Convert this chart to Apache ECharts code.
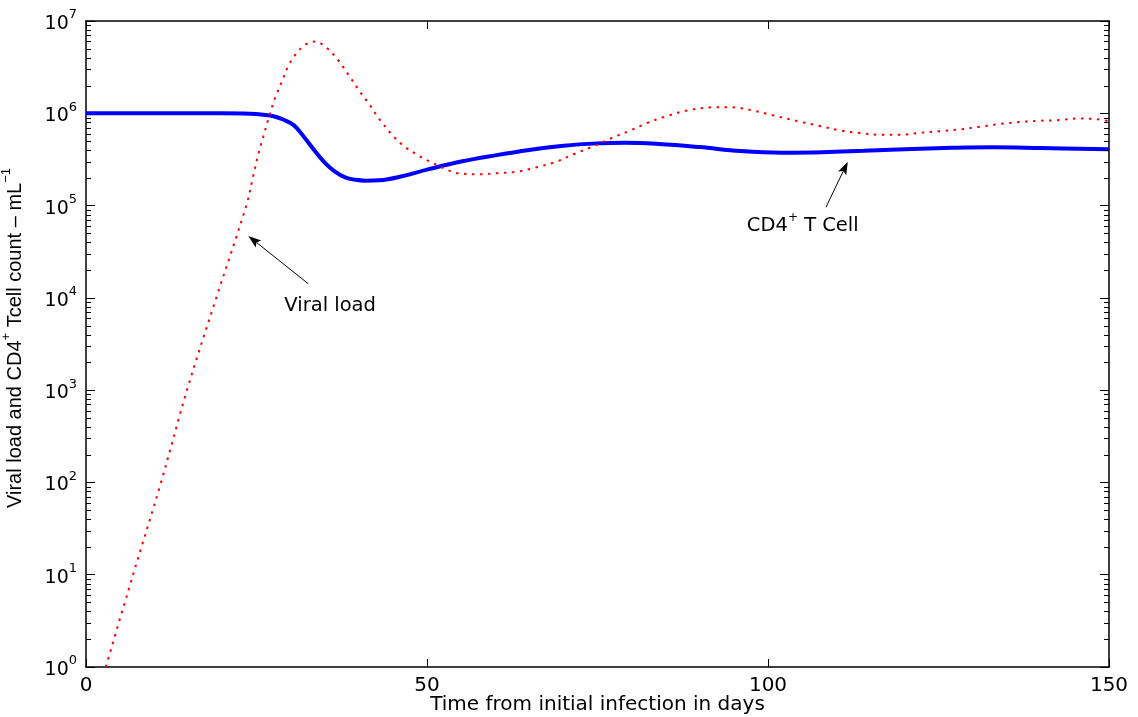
<!DOCTYPE html>
<html>
<head>
<meta charset="utf-8">
<script src="https://cdn.jsdelivr.net/npm/echarts@6/dist/echarts.min.js"></script>
<style>
  html, body { margin: 0; padding: 0; background: #ffffff; }
  #chart { width: 1138px; height: 717px; }
</style>
</head>
<body>
<div id="chart"></div>
<script>
// Viral load (copies per mL) over time, days since infection
const viralDays = [2.9, 6.9, 11.0, 14.8, 19.1, 23.5, 24.5, 25.3, 26.0, 26.7, 27.7, 28.7, 29.7, 30.9, 32.1, 33.6,
  35.3, 36.8, 38.5, 40.2, 41.6, 43.1, 45.1, 46.8, 49.0, 50.4, 52.9, 54.3, 57.3, 60.2, 63.2, 66.1, 69.0, 71.5,
  74.4, 77.1, 79.8, 82.2, 85.1, 88.1, 92.0, 94.9, 97.8, 100.5, 104.7, 107.6, 110.6, 113.5, 116.4, 119.4, 122.3,
  125.2, 128.2, 131.1, 134.0, 137.0, 139.9, 142.8, 145.5, 148.4, 150];
const viralLoad = [1, 10, 100, 1000, 1e4, 1e5, 2.06e5, 3.7e5, 5.6e5, 8.5e5, 1.45e6, 2.2e6, 3.3e6, 4.5e6, 5.5e6, 6.0e6,
  5.1e6, 3.9e6, 2.6e6, 1.7e6, 1.23e6, 8.5e5, 5.6e5, 4.3e5, 3.4e5, 3.0e5, 2.45e5, 2.26e5, 2.18e5, 2.24e5, 2.33e5, 2.6e5, 3.0e5, 3.6e5,
  4.4e5, 5.4e5, 6.5e5, 7.8e5, 9.3e5, 1.07e6, 1.16e6, 1.16e6, 1.07e6, 9.6e5, 8.1e5, 7.3e5, 6.5e5, 6.1e5, 5.85e5, 5.85e5, 6.15e5,
  6.4e5, 6.7e5, 7.15e5, 7.65e5, 8.05e5, 8.3e5, 8.45e5, 8.8e5, 8.6e5, 8.2e5];

// CD4+ T cell count (cells per mL)
const cd4Days = [0, 20, 24, 26, 27.5, 29, 30.5, 32, 33.5, 35, 36.5, 38, 39.5, 41, 43, 46, 50, 55, 60, 65,
  70, 75, 79, 84, 90, 96, 102, 108, 114, 120, 127, 133, 140, 150];
const cd4Count = [1e6, 1e6, 9.9e5, 9.65e5, 9.3e5, 8.5e5, 7.4e5, 5.5e5, 3.95e5, 2.92e5, 2.33e5, 2.02e5, 1.9e5, 1.86e5, 1.88e5, 2.05e5, 2.45e5, 3.0e5, 3.5e5, 4.0e5,
  4.45e5, 4.72e5, 4.8e5, 4.65e5, 4.3e5, 3.9e5, 3.74e5, 3.78e5, 3.92e5, 4.08e5, 4.22e5, 4.28e5, 4.2e5, 4.07e5];

// Axis ticks
const xTicks = [0, 50, 100, 150];
const yExponents = [0, 1, 2, 3, 4, 5, 6, 7];
const minorMantissas = [2, 3, 4, 5, 6, 7, 8, 9];

const FONT = "'DejaVu Sans', Verdana, sans-serif";
const TITLE_FONT = "'Liberation Sans', Arial, Helvetica, sans-serif";

const minorTickValues = [];
yExponents.slice(0, -1).forEach(e => {
  minorMantissas.forEach(m => minorTickValues.push([xTicks[0], m * Math.pow(10, e)]));
});

const chart = echarts.init(document.getElementById('chart'), null, { renderer: 'canvas' });

const AXIS_LINE = { show: true, onZero: false, lineStyle: { color: '#000', width: 1.5 } };

const option = {
  animation: false,
  backgroundColor: '#ffffff',
  grid: { left: 86, right: 29, top: 21, bottom: 50, containLabel: false, outerBoundsMode: 'none' },
  xAxis: [
    {
      type: 'value', min: 0, max: 150, interval: 50, position: 'bottom',
      name: 'Time from initial infection in days', nameLocation: 'middle', nameGap: 28,
      nameMoveOverlap: false,
      nameTextStyle: { fontSize: 20, fontFamily: FONT, color: '#000' },
      axisLine: AXIS_LINE,
      axisTick: { show: true, inside: true, length: 8, lineStyle: { color: '#000' } },
      axisLabel: { show: true, fontSize: 20, fontFamily: FONT, color: '#000', margin: 9 },
      splitLine: { show: false }
    },
    {
      type: 'value', min: 0, max: 150, interval: 50, position: 'top',
      axisLine: AXIS_LINE,
      axisTick: { show: true, inside: true, length: 8, lineStyle: { color: '#000' } },
      axisLabel: { show: false },
      splitLine: { show: false }
    }
  ],
  yAxis: [
    {
      type: 'log', logBase: 10, min: 1, max: 1e7, interval: 1, position: 'left',
      name: '{t|Viral load and CD4}{s|+}{t| Tcell count – mL}{s|−1}',
      nameLocation: 'middle', nameGap: 61, nameRotate: 90, nameMoveOverlap: false,
      nameTextStyle: {
        padding: [0, 0, 0, 12],
        rich: {
          t: { fontSize: 20, fontFamily: TITLE_FONT, color: '#000', lineHeight: 25, verticalAlign: 'bottom' },
          s: { fontSize: 13, fontFamily: TITLE_FONT, color: '#000', lineHeight: 13, verticalAlign: 'top' }
        }
      },
      axisLine: AXIS_LINE,
      axisTick: { show: true, inside: true, length: 9, lineStyle: { color: '#000' } },
      axisLabel: {
        show: true, margin: 9,
        formatter: v => '{b|10}{s|' + Math.round(Math.log10(v)) + '}',
        rich: {
          b: { fontSize: 19, fontFamily: FONT, color: '#000', lineHeight: 25, verticalAlign: 'bottom' },
          s: { fontSize: 13, fontFamily: FONT, color: '#000', lineHeight: 14, verticalAlign: 'top' }
        }
      },
      splitLine: { show: false }
    },
    {
      type: 'log', logBase: 10, min: 1, max: 1e7, interval: 1, position: 'right',
      axisLine: AXIS_LINE,
      axisTick: { show: true, inside: true, length: 9, lineStyle: { color: '#000' } },
      axisLabel: { show: false },
      splitLine: { show: false }
    }
  ],
  series: [
    {
      name: 'CD4+ T Cell', type: 'line', xAxisIndex: 0, yAxisIndex: 0,
      data: cd4Days.map((d, i) => [d, cd4Count[i]]),
      showSymbol: false, smooth: 0.4,
      lineStyle: { color: '#0000ff', width: 4 },
      z: 3
    },
    {
      name: 'Viral load', type: 'line', xAxisIndex: 0, yAxisIndex: 0,
      data: viralDays.map((d, i) => [d, viralLoad[i]]),
      showSymbol: false, smooth: 0.35,
      lineStyle: { color: '#ff0000', width: 2, type: [2.5, 5.5], cap: 'butt' },
      z: 4
    },
    {
      // minor decade ticks (2..9 x 10^k) on the left and right axes
      type: 'custom', xAxisIndex: 0, yAxisIndex: 0, silent: true, clip: false, z: 10,
      data: minorTickValues,
      renderItem: (params, api) => {
        const v = api.value(1);
        const l = api.coord([xTicks[0], v]);
        const r = api.coord([xTicks[xTicks.length - 1], v]);
        const y = Math.round(l[1]) + 0.5;
        return {
          type: 'group',
          children: [
            { type: 'line', shape: { x1: l[0], y1: y, x2: l[0] + 5, y2: y }, style: { stroke: '#000', lineWidth: 1 } },
            { type: 'line', shape: { x1: r[0], y1: y, x2: r[0] - 5, y2: y }, style: { stroke: '#000', lineWidth: 1 } }
          ]
        };
      }
    }
  ]
};

chart.setOption(option);

// Text arrows pointing at each curve (data coordinates)
const annotations = [
  { text: 'Viral load', at: [35.8, 8.2e3], from: [32.6, 1.42e4], to: [23.8, 4.69e4] },
  { text: '{t|CD4}{s|+}{t| T Cell}', at: [105.1, 6.3e4], from: [108.5, 9.6e4], to: [111.7, 2.99e5] }
];

const graphics = [];
annotations.forEach(a => {
  const p = chart.convertToPixel({ gridIndex: 0 }, a.at);
  const f = chart.convertToPixel({ gridIndex: 0 }, a.from);
  const t = chart.convertToPixel({ gridIndex: 0 }, a.to);
  const dx = t[0] - f[0], dy = t[1] - f[1];
  const len = Math.sqrt(dx * dx + dy * dy);
  const ux = dx / len, uy = dy / len;
  const px = -uy, py = ux;
  const L = 13, W = 4.5;
  const bx = t[0] - ux * L, by = t[1] - uy * L;
  const nx = t[0] - ux * L * 0.8, ny = t[1] - uy * L * 0.8;
  graphics.push({
    type: 'line', silent: true, z: 20,
    shape: { x1: f[0], y1: f[1], x2: nx, y2: ny },
    style: { stroke: '#000', lineWidth: 1 }
  });
  graphics.push({
    type: 'polygon', silent: true, z: 20,
    shape: { points: [[t[0], t[1]], [bx + px * W, by + py * W], [nx, ny], [bx - px * W, by - py * W]] },
    style: { fill: '#000' }
  });
  graphics.push({
    type: 'text', silent: true, z: 20,
    x: p[0], y: p[1],
    style: {
      text: a.text, fontSize: 19.5, fontFamily: FONT, fill: '#000',
      align: 'center', verticalAlign: 'middle',
      rich: {
        t: { fontSize: 19.5, fontFamily: FONT, fill: '#000', lineHeight: 24, verticalAlign: 'bottom' },
        s: { fontSize: 12, fontFamily: FONT, fill: '#000', lineHeight: 12, verticalAlign: 'top' }
      }
    }
  });
});
chart.setOption({ graphic: graphics });
</script>
</body>
</html>
